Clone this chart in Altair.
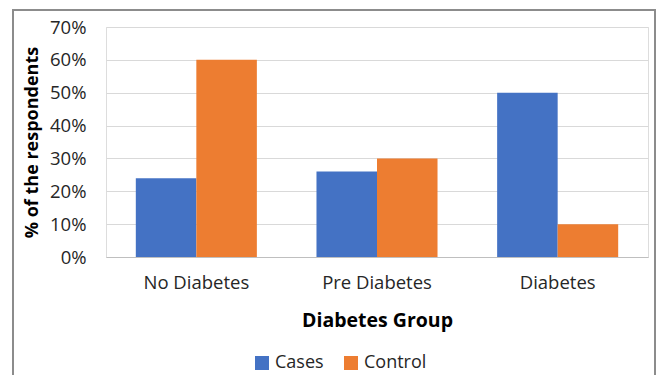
import altair as alt
import pandas as pd

groups = ["No Diabetes", "Pre Diabetes", "Diabetes"]
cases = [24, 26, 50]
control = [60, 30, 10]
series = ["Cases", "Control"]

rows = []
for g, c, k in zip(groups, cases, control):
    rows.append({"group": g, "series": "Cases", "value": c})
    rows.append({"group": g, "series": "Control", "value": k})
df = pd.DataFrame(rows)

FONT = "Open Sans"

bars = alt.Chart(df).mark_bar().encode(
    x=alt.X("group:N", sort=groups,
            scale=alt.Scale(paddingInner=0.33, paddingOuter=0.165),
            axis=alt.Axis(title="Diabetes Group", labelAngle=0, labelFontSize=18.5,
                          labelColor="#262626", labelPadding=16, ticks=False,
                          domainColor="#bfbfbf", titleFontSize=19.5, titleFontWeight="bold",
                          titleColor="#000000", titlePadding=20, labelFont=FONT, titleFont=FONT)),
    xOffset=alt.XOffset("series:N", sort=series, scale=alt.Scale(paddingInner=0, paddingOuter=0)),
    y=alt.Y("value:Q", scale=alt.Scale(domain=[0, 70]),
            axis=alt.Axis(title="% of the respondents", values=[0, 10, 20, 30, 40, 50, 60, 70],
                          labelExpr="datum.value + '%'", labelFontSize=18.5, labelColor="#262626",
                          domain=False, ticks=False, labelPadding=20, gridColor="#d9d9d9",
                          titleFontSize=18, titleFontWeight="bold", titleColor="#000000",
                          titlePadding=8, labelFont=FONT, titleFont=FONT)),
    color=alt.Color("series:N", sort=series,
                    scale=alt.Scale(domain=series, range=["#4472C4", "#ED7D31"]),
                    legend=alt.Legend(title=None, orient="none", direction="horizontal",
                                      legendX=147, legendY=327, symbolType="square",
                                      symbolSize=196, labelFontSize=18, labelFont=FONT,
                                      labelColor="#262626", columnPadding=18, labelOffset=4,
                                      symbolStrokeWidth=0)),
)

frame = alt.Chart(df).mark_rect(filled=False, stroke="#8c8c8c", strokeWidth=1.5, clip=False).encode(
    x=alt.value(-93), x2=alt.value(549), y=alt.value(-17), y2=alt.value(400)
)

chart = alt.layer(frame, bars).properties(
    width=542, height=230,
    autosize=alt.AutoSizeParams(type="none"),
    padding={"left": 106, "top": 27, "right": 11, "bottom": 118},
).configure_view(stroke=None).configure(background="white")

chart.save("out.html", embed_options={"renderer": "svg", "actions": False})
